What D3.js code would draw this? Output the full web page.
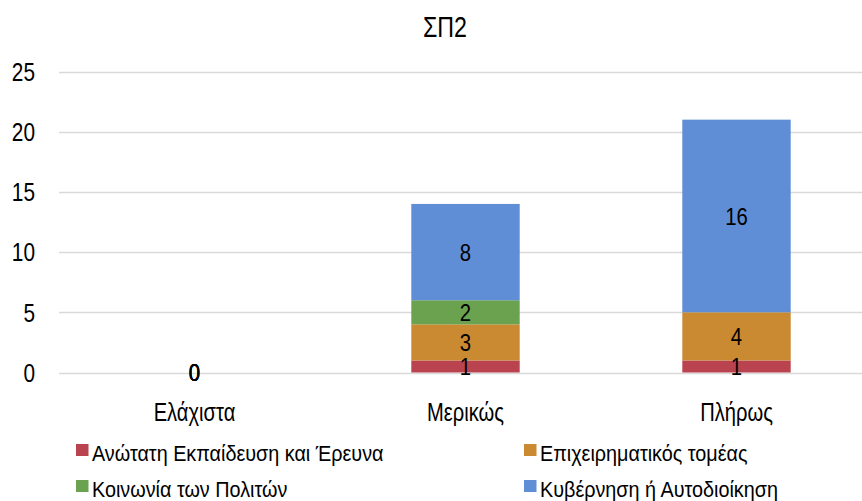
<!DOCTYPE html>
<html>
<head>
<meta charset="utf-8">
<script src="https://cdn.jsdelivr.net/npm/d3@7"></script>
<style>
  body { margin: 0; background: #fff; }
  text { font-family: "Liberation Sans", Arial, sans-serif; fill: #000; }
</style>
</head>
<body>
<div class="d3-container"></div>
<script>
const w = 862
const h = 501

// data
const categories = ['Ελάχιστα', 'Μερικώς', 'Πλήρως']
const seriesNames = ['Ανώτατη Εκπαίδευση και Έρευνα', 'Επιχειρηματικός τομέας', 'Κοινωνία των Πολιτών', 'Κυβέρνηση ή Αυτοδιοίκηση']
const seriesColors = ['#B9434E', '#C98A32', '#6BA24F', '#5F8ED6']
const higherEd = [0, 1, 1]
const business = [0, 3, 4]
const civil = [0, 2, 0]
const government = [0, 8, 16]
const yTicks = [0, 5, 10, 15, 20, 25]

const values = [higherEd, business, civil, government]

const svg = d3.select('.d3-container')
    .append('svg')
    .attr('width', w)
    .attr('height', h)

// text in the picture is tall and narrow, so squeeze it sideways
const addText = (sel, px, sx) => sel
    .style('font-size', px + 'px')
    .attr('transform', function () {
        const x0 = +d3.select(this).attr('x')
        return `translate(${x0 * (1 - sx)}, 0) scale(${sx}, 1)`
    })

const x = d3.scaleBand()
    .domain(categories)
    .range([59, 872])
    .paddingInner(0.6)
    .paddingOuter(0.3)

const y = d3.scaleLinear()
    .domain([0, 25])
    .range([372.5, 71.5])

// gridlines
svg.append('g')
    .selectAll('line')
    .data(yTicks)
    .enter()
    .append('line')
    .attr('x1', 59)
    .attr('x2', w)
    .attr('y1', d => Math.round(y(d)) + 0.5)
    .attr('y2', d => Math.round(y(d)) + 0.5)
    .attr('stroke', '#d9d9d9')
    .attr('stroke-width', 1.3)

// y tick labels
svg.append('g')
    .selectAll('text')
    .data(yTicks)
    .enter()
    .append('text')
    .attr('x', 35)
    .attr('y', d => y(d) + 9.3)
    .attr('text-anchor', 'end')
    .text(d => d)
    .call(addText, 26, 0.8)

// stack
const rows = categories.map((c, i) => {
    const r = { cat: c }
    seriesNames.forEach((s, j) => { r[s] = values[j][i] })
    return r
})
const stacked = d3.stack().keys(seriesNames)(rows)

const layers = svg.append('g')
    .selectAll('g')
    .data(stacked)
    .enter()
    .append('g')
    .attr('fill', (d, i) => seriesColors[i])

layers.selectAll('rect')
    .data(d => d)
    .enter()
    .append('rect')
    .attr('x', d => x(d.data.cat))
    .attr('width', x.bandwidth())
    .attr('y', d => y(d[1]))
    .attr('height', d => y(d[0]) - y(d[1]))

// value labels (shown when value > 0 or the whole column is empty)
const labels = []
stacked.forEach((layer, j) => {
    layer.forEach((d, i) => {
        const v = d[1] - d[0]
        const total = d3.sum(values, s => s[i])
        if (v > 0 || total === 0) {
            labels.push({ cat: d.data.cat, mid: (d[0] + d[1]) / 2, v: v })
        }
    })
})

svg.append('g')
    .selectAll('text')
    .data(labels)
    .enter()
    .append('text')
    .attr('x', d => x(d.cat) + x.bandwidth() / 2)
    .attr('y', d => y(d.mid) + 8.8)
    .attr('text-anchor', 'middle')
    .text(d => d.v)
    .call(addText, 24.5, 0.83)

// category labels
svg.append('g')
    .selectAll('text')
    .data(categories)
    .enter()
    .append('text')
    .attr('x', d => x(d) + x.bandwidth() / 2)
    .attr('y', 421)
    .attr('text-anchor', 'middle')
    .text(d => d)
    .call(addText, 25.5, 0.79)

// title
svg.append('text')
    .attr('x', 445)
    .attr('y', 37)
    .attr('text-anchor', 'middle')
    .text('ΣΠ2')
    .call(addText, 29, 0.8)

// legend
const legendPos = [[76, 444], [524, 444], [76, 480], [524, 480]]
const legend = svg.append('g').attr('class', 'legend')
const items = legend.selectAll('g')
    .data(seriesNames)
    .enter()
    .append('g')
    .attr('transform', (d, i) => `translate(${legendPos[i][0]}, ${legendPos[i][1]})`)

items.append('rect')
    .attr('x', 0)
    .attr('y', 0)
    .attr('width', 12.5)
    .attr('height', 12)
    .attr('fill', (d, i) => seriesColors[i])

items.append('text')
    .attr('x', 16)
    .attr('y', 16.5)
    .text(d => d)
    .call(addText, 22, 0.9)
</script>
</body>
</html>
